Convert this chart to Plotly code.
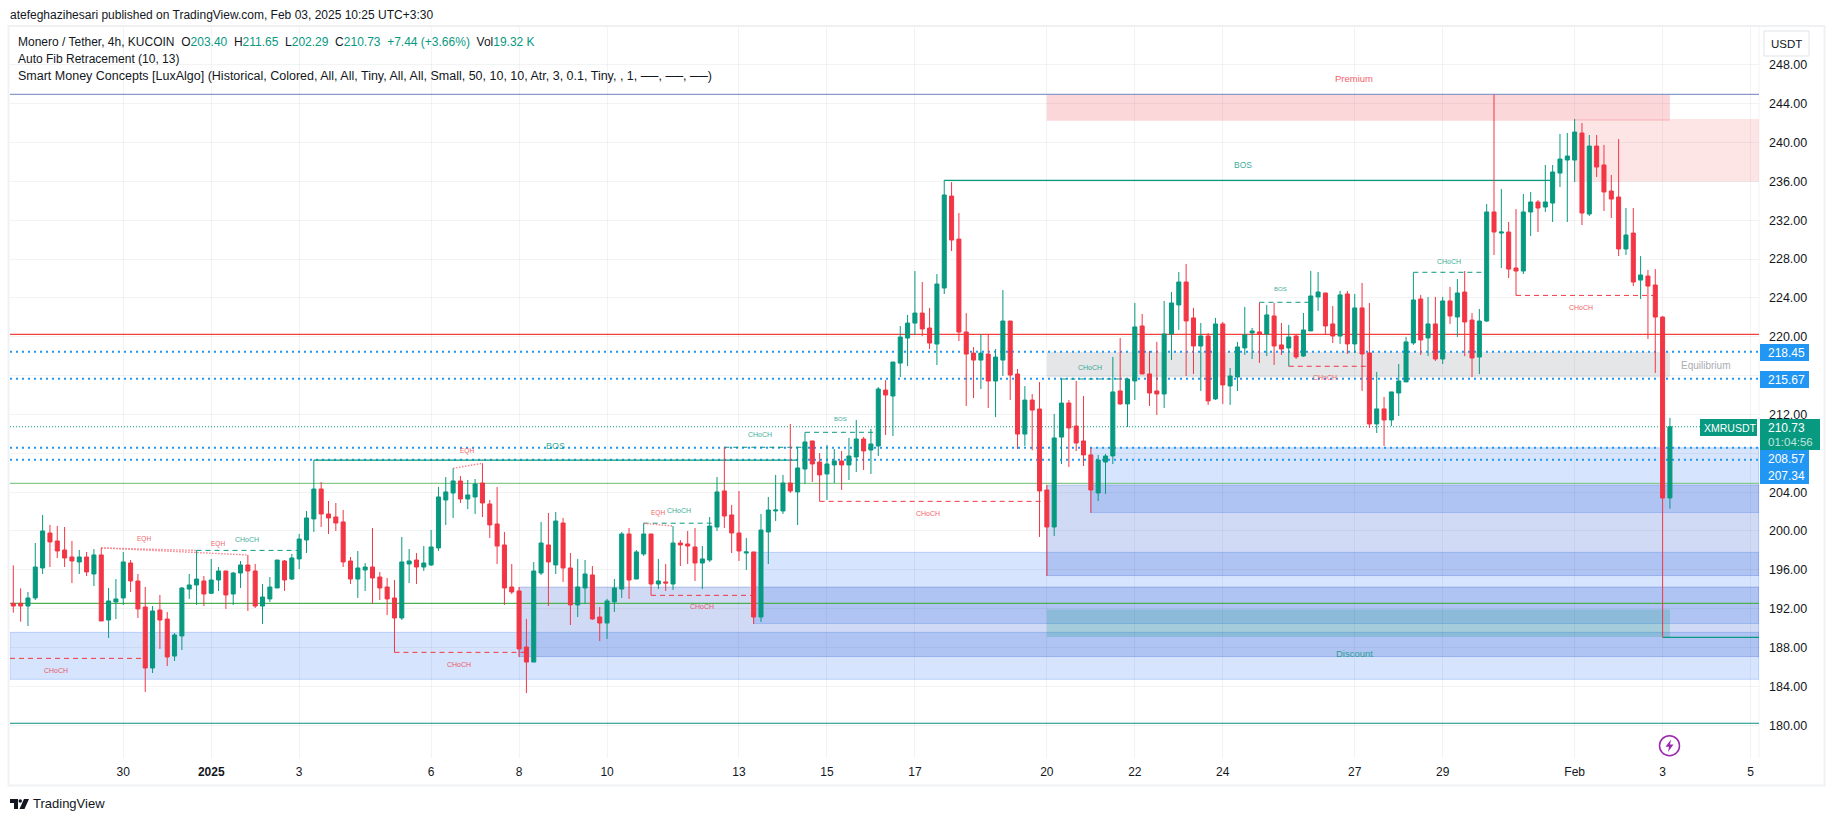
import plotly.graph_objects as go

# ---------- candle data (4h XMR/USDT) ----------
opens = [192.55,192.55,192.27,193.10,196.19,199.79,198.97,198.04,197.32,196.81,
197.32,195.57,197.53,190.83,192.69,193.10,196.70,194.85,192.17,185.89,
191.86,190.93,187.12,189.19,194.02,194.44,194.85,193.58,194.95,195.88,
193.51,195.67,196.50,195.88,192.27,193.00,194.13,196.91,195.05,197.12,
199.07,201.24,204.32,201.75,201.44,200.93,196.91,195.05,195.98,196.29,
195.26,194.23,193.10,191.04,196.60,197.01,196.29,196.50,198.25,203.19,
203.91,205.15,203.29,203.50,204.94,202.78,200.72,198.56,194.23,193.82,
188.05,186.50,195.67,198.56,196.50,200.82,196.19,192.38,194.13,195.47,
191.14,190.52,192.69,194.02,199.69,195.05,197.63,199.69,194.54,194.75,
194.54,198.76,198.66,198.35,196.70,197.01,200.41,204.12,201.65,199.79,
197.73,197.84,191.14,199.90,202.06,202.06,204.94,204.02,206.38,209.27,
207.10,205.87,206.80,207.21,206.80,207.62,209.47,208.34,208.75,214.51,
213.90,217.29,219.87,221.41,222.44,220.90,219.25,225.02,234.49,230.06,
220.49,218.32,217.60,218.22,215.44,217.60,221.62,216.16,209.98,213.48,
212.56,204.22,200.41,209.67,213.18,210.81,209.27,207.83,203.91,207.10,
207.73,214.42,213.08,215.45,221.11,216.17,214.42,214.11,220.29,223.28,
225.64,221.94,219.05,220.08,213.60,221.32,214.93,215.86,218.85,220.39,
220.50,220.29,222.14,219.16,218.85,220.08,218.02,220.60,224.10,224.51,
221.32,220.08,224.41,219.26,222.97,218.33,211.02,212.57,211.43,214.21,
215.35,219.36,223.89,219.88,221.32,217.71,223.69,222.04,224.61,221.72,
217.91,221.62,232.85,230.68,230.79,227.08,226.77,232.85,233.88,233.36,
233.77,236.86,238.20,238.20,240.98,232.64,239.64,237.69,235.01,234.39,
229.04,230.68,225.84,226.25,225.33,222.03,203.40]

closes = [192.27,192.27,193.10,196.29,200.00,198.87,197.94,197.22,196.91,197.32,
195.78,197.53,190.73,192.79,193.00,196.81,194.85,191.97,185.89,191.76,
190.83,187.02,189.29,194.13,194.44,195.05,193.51,194.95,195.88,193.41,
195.67,196.50,195.88,192.27,193.20,194.23,197.01,194.95,197.22,199.17,
201.34,204.32,201.75,201.34,200.82,196.81,195.05,196.19,196.29,195.16,
194.13,193.00,191.04,196.81,196.91,196.29,196.70,198.35,203.50,204.02,
205.15,203.29,203.71,204.84,202.88,200.62,198.45,194.13,193.72,187.85,
186.50,195.88,198.76,196.81,201.03,196.19,192.38,194.23,195.57,190.94,
190.52,192.79,194.13,199.69,194.95,197.84,199.69,194.54,194.85,194.64,
198.76,198.56,198.45,196.70,197.12,200.51,204.02,201.54,199.79,197.94,
197.84,191.14,200.10,202.16,202.16,204.94,204.12,206.49,209.17,206.90,
205.77,206.90,207.21,206.80,207.72,209.47,208.24,208.96,214.62,214.00,
217.40,219.97,221.41,222.44,220.80,219.35,225.43,234.60,229.96,220.49,
218.22,217.60,218.32,215.44,217.91,221.62,216.06,209.98,213.48,212.45,
204.12,200.41,209.58,213.17,210.61,209.06,207.83,204.22,207.31,207.72,
214.32,213.08,215.65,221.01,216.17,214.21,214.11,220.29,223.48,225.64,
221.63,219.05,220.08,213.39,221.32,215.04,215.96,218.95,220.19,220.60,
220.29,222.25,219.05,218.74,219.98,217.92,220.70,224.20,224.61,221.11,
220.08,224.31,219.26,222.97,218.23,211.02,212.57,211.43,214.32,215.45,
219.47,223.79,219.67,221.32,217.71,223.69,222.14,224.51,221.52,217.81,
221.62,232.85,230.79,230.79,226.97,226.77,232.85,233.88,233.26,233.88,
236.97,238.30,238.61,241.08,232.74,239.64,237.48,234.91,234.18,229.04,
230.48,225.64,226.36,225.22,222.03,203.40,210.73]

highs = [196.46,194.09,193.72,198.76,201.65,200.62,200.51,200.41,198.97,198.04,
197.84,198.14,198.25,194.13,195.05,197.84,197.01,195.57,194.23,192.27,
193.41,191.66,189.49,194.23,195.57,198.00,195.36,197.12,196.29,195.88,
195.78,196.91,197.53,196.60,194.54,195.26,197.01,197.01,197.63,199.69,
202.06,207.28,205.04,203.09,202.88,202.16,197.32,197.94,196.70,200.31,
195.78,195.16,194.95,199.38,198.14,197.73,198.45,200.10,204.53,205.56,
206.45,205.66,205.25,205.35,206.97,203.19,204.53,199.90,196.60,194.23,
190.93,196.80,200.93,201.85,201.96,201.34,197.73,197.12,197.01,196.39,
192.17,193.00,195.05,199.90,200.31,198.04,200.79,199.69,197.12,196.60,
200.51,199.07,200.00,200.31,198.45,201.44,205.56,208.62,202.68,204.12,
199.28,197.84,201.75,203.50,205.77,205.77,211.02,208.62,210.16,209.27,
208.03,208.86,208.44,208.24,209.58,211.43,209.68,210.50,214.82,215.54,
217.40,221.10,222.24,226.77,225.64,222.96,226.46,236.14,235.93,232.74,
222.44,218.94,220.28,220.28,218.74,224.81,221.62,216.68,214.92,214.10,
215.34,204.74,212.05,215.65,213.49,215.45,213.90,208.55,207.83,207.93,
217.92,219.88,215.65,223.48,222.35,218.54,219.47,223.69,224.61,226.67,
227.50,222.97,221.42,220.39,221.94,221.53,216.79,219.47,223.07,220.91,
223.55,223.28,223.48,221.42,221.22,220.19,222.45,226.78,226.67,224.51,
223.17,224.72,224.72,224.41,225.54,223.48,216.38,213.80,214.32,217.20,
219.98,226.64,224.31,224.10,224.10,224.10,225.13,225.95,226.77,222.44,
222.86,233.67,244.96,235.21,231.82,233.15,234.70,234.91,234.08,237.69,
237.69,240.88,240.98,242.42,242.01,240.78,240.78,239.75,236.66,240.36,
233.26,233.26,228.31,226.87,226.97,222.14,211.65]

lows = [191.59,190.66,190.21,192.89,195.57,196.29,197.22,196.29,194.64,195.57,
195.36,194.33,190.73,188.98,190.93,192.38,193.72,191.04,183.42,185.37,
187.85,186.09,186.61,187.74,193.00,192.38,192.27,193.51,193.82,191.97,
192.38,194.13,191.76,192.07,190.42,192.69,194.13,193.82,194.95,196.08,
197.73,199.90,200.41,199.69,200.00,196.29,194.54,193.10,193.82,192.52,
192.89,191.35,187.50,190.83,194.64,194.54,195.88,196.39,197.94,200.62,
201.34,202.88,202.26,201.75,201.44,199.28,196.60,192.38,193.51,187.02,
183.31,186.50,195.47,192.27,195.57,194.75,190.32,191.14,192.48,190.83,
188.67,188.88,191.66,193.10,193.00,195.05,197.42,193.37,194.02,193.82,
193.92,196.39,196.60,194.85,194.02,196.81,200.00,200.31,197.73,196.91,
195.98,190.42,190.63,196.60,201.03,201.75,203.91,200.62,204.84,205.05,
203.05,203.19,204.94,204.22,205.25,206.07,206.28,205.87,207.72,209.88,
209.78,215.85,216.98,220.18,220.07,218.74,217.09,224.40,228.83,219.56,
212.87,213.69,214.62,212.66,211.73,215.96,213.48,208.44,208.75,208.30,
199.38,195.36,199.48,206.90,206.59,208.24,206.69,201.85,203.09,203.81,
206.90,213.00,210.71,213.49,216.17,212.87,211.95,212.67,217.61,220.70,
215.96,216.17,214.42,212.98,213.49,213.08,212.98,214.42,218.13,217.71,
217.30,218.02,217.10,218.13,216.96,217.71,217.92,220.60,222.66,220.19,
219.36,219.26,218.23,218.33,214.42,210.61,210.09,208.75,210.81,211.84,
215.35,219.16,218.13,218.02,217.51,217.20,221.32,219.98,218.00,215.85,
216.16,221.52,228.42,227.08,226.05,224.26,226.46,230.37,230.79,232.85,
231.82,235.42,231.82,235.94,231.51,232.43,236.45,232.95,232.23,228.31,
228.42,225.22,223.89,219.77,216.27,189.04,202.29]

# ---------- axis labels ----------
x_tick_index = [15,27,39,57,69,81,99,111,123,141,153,165,183,195,213,225,237]
x_tick_text = ["30","<b>2025</b>","3","6","8","10","13","15","17","20","22","24","27","29","Feb","3","5"]
y_tick_values = [180,184,188,192,196,200,204,208,212,216,220,224,228,232,236,240,244,248]
y_hidden_ticks = [208,216]

# ---------- horizontal levels: price, start index, end index ----------
X_MIN, X_MAX = -0.45, 238.15
fib_levels = [244.97, 220.25, 204.90, 192.55, 180.20]
fib_colors = ["#8a9bc9", "#f5403a", "#86c98a", "#4caf50", "#0b8f80"]
pos_lines = [218.45, 215.67, 208.57, 207.34]
last_price = 210.73

swing_bos = [(41, 107, 207.30), (127, 210, 236.10), (225, X_MAX, 189.04)]
teal_dashed = [(25, 39, 198.00), (86, 96, 200.80), (97, 108, 208.62), (108, 118, 210.16),
               (143, 152, 215.65), (170, 177, 223.55), (191, 201, 226.64)]
red_dashed = [(X_MIN, 18, 186.88), (52, 70, 187.50), (87, 101, 193.37), (110, 141, 203.05),
              (174, 185, 216.96), (205, 224, 224.26)]
eqh_lines = [(12, 198.25, 25, 198.00), (12, 198.25, 32, 197.53), (60, 206.45, 64, 206.97), (86, 200.79, 90, 200.51)]

# ---------- zones: start index, end index, upper price, lower price ----------
ZONE_END = 226
light_blue_zones = [(X_MIN, X_MAX, 189.56, 184.72), (101, X_MAX, 197.80, 190.47), (147, X_MAX, 208.56, 201.90)]
deep_blue_zones = [(69, X_MAX, 194.22, 187.07), (141, X_MAX, 204.72, 195.41)]
pink_zone = (213, X_MAX, 242.42, 235.97)
premium_zone = (141, ZONE_END, 244.97, 242.25)
equilibrium_zone = (141, ZONE_END, 218.44, 215.83)
discount_zone = (141, ZONE_END, 191.90, 189.08)

# ---------- tiny labels: text, index, price ----------
teal_labels = [("CHoCH",31.9,199.17,7),("CHoCH",90.8,202.1,7),("CHoCH",101.9,209.9,7),("CHoCH",146.9,216.8,7),
               ("CHoCH",195.9,227.8,7),("BOS",112.9,211.5,6),("BOS",172.9,224.9,6),("BOS",73.9,208.75,9),("BOS",167.7,237.7,8.5)]
red_labels = [("CHoCH",5.8,185.6,7),("CHoCH",60.8,186.2,7),("CHoCH",93.9,192.2,7),("CHoCH",124.8,201.8,7),
              ("CHoCH",178.9,215.8,7),("CHoCH",213.9,223.0,7),("EQH",17.8,199.2,6.5),("EQH",27.9,198.7,6.5),
              ("EQH",61.9,208.2,6.5),("EQH",87.9,201.8,6.5)]

UP, DOWN = "#089981", "#f23645"
FONT = "Liberation Sans"
GRID = "rgba(42,46,57,0.06)"
W, H = 1835, 821
PL, PR, PT, PB = 10, 1759, 27, 758
px = lambda x: (x - PL) / (PR - PL)
py = lambda y: (PB - y) / (PB - PT)

fig = go.Figure(go.Candlestick(
    x=list(range(len(opens))), open=opens, high=highs, low=lows, close=closes,
    whiskerwidth=0,
    increasing=dict(line=dict(color=UP, width=1), fillcolor=UP),
    decreasing=dict(line=dict(color=DOWN, width=1), fillcolor=DOWN),
    hoverinfo="skip", showlegend=False))

shapes = []
def zone(z, fill, edge=None):
    shapes.append(dict(type="rect", xref="x", yref="y", x0=z[0], x1=z[1], y0=z[3], y1=z[2], layer="below",
                       fillcolor=fill, line=dict(color=edge or "rgba(0,0,0,0)", width=1)))
def seg(x0, x1, y0, y1, color, width=1, dash="solid"):
    shapes.append(dict(type="line", xref="x", yref="y", x0=x0, x1=x1, y0=y0, y1=y1, layer="below",
                       line=dict(color=color, width=width, dash=dash)))

for z in light_blue_zones: zone(z, "rgba(49,121,245,0.2)", "rgba(49,121,245,0.25)")
for z in deep_blue_zones:  zone(z, "rgba(24,72,204,0.2)", "rgba(24,72,204,0.25)")
zone(pink_zone, "rgba(247,124,128,0.2)")
zone(premium_zone, "rgba(242,54,69,0.2)")
zone(equilibrium_zone, "rgba(135,139,148,0.22)")
zone(discount_zone, "rgba(8,153,129,0.22)")

for v, c in zip(fib_levels, fib_colors): seg(X_MIN, X_MAX, v, v, c, 1.2)
for v in pos_lines: seg(X_MIN, X_MAX, v, v, "#2196f3", 2, "2px,4px")
seg(X_MIN, X_MAX, last_price, last_price, UP, 1, "1px,2px")
for a, b, v in swing_bos: seg(a, b, v, v, UP, 1.2)
for a, b, v in teal_dashed: seg(a, b, v, v, UP, 1, "5px,4px")
for a, b, v in red_dashed: seg(a, b, v, v, DOWN, 1, "5px,4px")
for a, v0, b, v1 in eqh_lines: seg(a, b, v0, v1, "#f7838d", 1.4, "1.5px,1.5px")

# frame, price badges, small icon and logo
def rect_px(x0, y0, x1, y1, fill, line=None, lw=0):
    shapes.append(dict(type="rect", xref="paper", yref="paper", x0=px(x0), x1=px(x1), y0=py(y1), y1=py(y0),
                       fillcolor=fill, line=dict(color=line or "rgba(0,0,0,0)", width=lw), layer="above"))
def path_px(points, fill):
    d = "M" + " L".join(f"{px(a):.5f},{py(b):.5f}" for a, b in points) + " Z"
    shapes.append(dict(type="path", xref="paper", yref="paper", path=d, fillcolor=fill, line=dict(width=0), layer="above"))

rect_px(8.5, 26, 1824.5, 785.5, "rgba(0,0,0,0)", "#f0f1f3", 2)
shapes.append(dict(type="line", xref="paper", yref="paper", x0=1, x1=1, y0=0, y1=1, layer="below", line=dict(color="#f0f3fa", width=1)))
rect_px(1760, 344, 1809, 361, "#2196f3")
rect_px(1760, 371, 1809, 388, "#2196f3")
rect_px(1760, 450, 1809, 484, "#2196f3")
rect_px(1700, 419, 1757, 436, UP)
rect_px(1760, 419, 1820, 450, UP)
shapes.append(dict(type="rect", xref="paper", yref="paper", x0=px(1764), x1=px(1809), y0=py(56), y1=py(31),
                   fillcolor="white", line=dict(color="#e0e3eb", width=1), layer="above"))
shapes.append(dict(type="circle", xref="paper", yref="paper", x0=px(1659.5), x1=px(1679.5), y0=py(755.7), y1=py(735.7),
                   fillcolor="white", line=dict(color="#9c27b0", width=1.5), layer="above"))
path_px([(1671,739.5),(1665.5,746.8),(1669,746.8),(1668,752),(1673.5,744.5),(1670,744.5)], "#9c27b0")
path_px([(10,799),(18,799),(18,809),(14,809),(14,803),(10,803)], "#131722")
shapes.append(dict(type="circle", xref="paper", yref="paper", x0=px(18.5), x1=px(22), y0=py(802.7), y1=py(799.2),
                   fillcolor="#131722", line=dict(width=0), layer="above"))
path_px([(24,799),(29,799),(24.5,809),(19.5,809)], "#131722")

ann = []
def text_px(t, x, y, size, color="#131722", anchor="left"):
    ann.append(dict(text=t, xref="paper", yref="paper", x=px(x), y=py(y), xanchor=anchor, yanchor="middle",
                    showarrow=False, font=dict(family=FONT, size=size, color=color), borderpad=0, borderwidth=0))
def text_data(t, i, p, size, color):
    ann.append(dict(text=t, xref="x", yref="y", x=i, y=p, xanchor="center", yanchor="middle", opacity=0.8,
                    showarrow=False, font=dict(family=FONT, size=size, color=color), borderpad=0))

for t, i, p, s in teal_labels: text_data(t, i, p, s, UP)
for t, i, p, s in red_labels:  text_data(t, i, p, s, DOWN)
text_data("Premium", 182.9, 246.6, 9.5, DOWN)
text_data("Discount", 182.9, 187.4, 9.5, UP)
text_data("Equilibrium", 230.9, 217.0, 10, "#9598a1")

g = lambda s: f'<span style="color:{UP}">{s}</span>'
sp = "\u00a0"
text_px("atefeghazihesari published on TradingView.com, Feb 03, 2025 10:25 UTC+3:30", 10, 14.7, 12)
text_px(f"Monero / Tether, 4h, KUCOIN{sp}{sp}O{g('203.40')}{sp}{sp}H{g('211.65')}{sp}{sp}L{g('202.29')}{sp}{sp}C{g('210.73')}{sp}{sp}{g('+7.44 (+3.66%)')}{sp}{sp}Vol{g('19.32 K')}", 18, 41.7, 12)
text_px("Auto Fib Retracement (10, 13)", 18, 58.7, 12)
text_px("Smart Money Concepts [LuxAlgo] (Historical, Colored, All, All, Tiny, All, All, Small, 50, 10, 10, Atr, 3, 0.1, Tiny, , 1, \u2500\u2500, \u2500\u2500, \u2500\u2500)", 18, 76, 12.5)
text_px("TradingView", 33, 804, 13)
text_px("USDT", 1786, 44, 11.5, anchor="center")
text_px("218.45", 1768, 352.5, 12, "white")
text_px("215.67", 1768, 379.5, 12, "white")
text_px("208.57", 1768, 458.5, 12, "white")
text_px("207.34", 1768, 476, 12, "white")
text_px("XMRUSDT", 1704, 427.5, 10.5, "white")
text_px("210.73", 1768, 428, 12, "white")
text_px("01:04:56", 1768, 441.5, 11.5, "rgba(255,255,255,0.75)")

fig.update_layout(
    width=W, height=H, autosize=False,
    margin=dict(l=PL, r=W - PR, t=PT, b=H - PB),
    paper_bgcolor="white", plot_bgcolor="white", showlegend=False, boxgap=0.45, boxgroupgap=0,
    shapes=shapes, annotations=ann, font=dict(family=FONT, color="#131722"),
    xaxis=dict(range=[X_MIN, X_MAX], rangeslider=dict(visible=False), tickmode="array",
               tickvals=x_tick_index, ticktext=x_tick_text, tickfont=dict(size=12, family=FONT),
               showgrid=True, gridcolor=GRID, gridwidth=1, zeroline=False, ticks="", showline=False, ticklabelstandoff=5),
    yaxis=dict(range=[176.62, 251.9], side="right", tickmode="array", tickvals=y_tick_values,
               ticktext=["" if v in y_hidden_ticks else f"{v:.2f}" for v in y_tick_values],
               tickfont=dict(size=12.5, family=FONT), showgrid=True, gridcolor=GRID, gridwidth=1,
               zeroline=False, ticks="", showline=False, ticklabelstandoff=9),
)
fig.write_html("out.html", config=dict(displayModeBar=False),
               post_script="document.body.style.margin='0';document.body.style.overflow='hidden';")
